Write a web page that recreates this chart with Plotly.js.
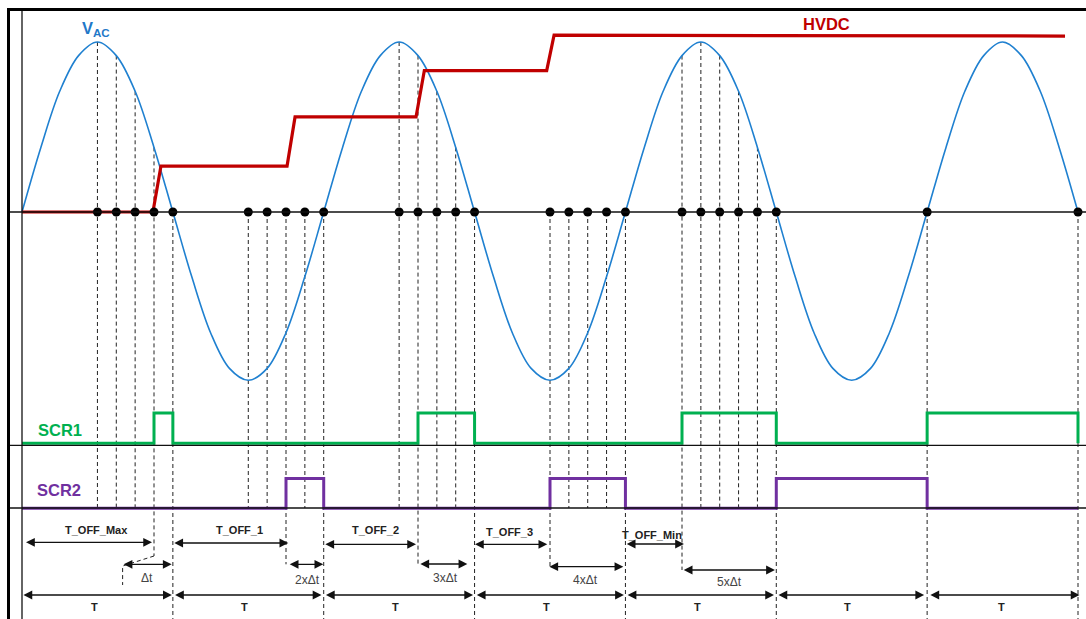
<!DOCTYPE html>
<html><head><meta charset="utf-8">
<script src="https://cdn.plot.ly/plotly-3.0.1.min.js"></script>
<style>html,body{margin:0;padding:0;background:#fff}#chart{width:1086px;height:619px}</style>
</head><body><div id="chart"></div>
<script>
// Time unit: one half-cycle of V_AC (= T). Voltage unit: V_AC peak.
const vacTime = [0,0.125,0.25,0.375,0.5,0.625,0.75,0.875,
  1,1.125,1.25,1.375,1.5,1.625,1.75,1.875,
  2,2.125,2.25,2.375,2.5,2.625,2.75,2.875,
  3,3.125,3.25,3.375,3.5,3.625,3.75,3.875,
  4,4.125,4.25,4.375,4.5,4.625,4.75,4.875,
  5,5.125,5.25,5.375,5.5,5.625,5.75,5.875,
  6,6.125,6.25,6.375,6.5,6.625,6.75,6.875,7];
const vacValue = [0,0.38,0.71,0.92,1.0,0.92,0.71,0.38,
  0,-0.38,-0.71,-0.92,-0.99,-0.92,-0.71,-0.38,
  0,0.38,0.71,0.92,1.0,0.92,0.71,0.38,
  0,-0.38,-0.71,-0.92,-0.99,-0.92,-0.71,-0.38,
  0,0.38,0.71,0.92,1.0,0.92,0.71,0.38,
  0,-0.38,-0.71,-0.92,-0.99,-0.92,-0.71,-0.38,
  0,0.38,0.71,0.92,1.0,0.92,0.71,0.38,0];

const hvdcTime  = [0,0.868,0.921,1.757,1.81,2.612,2.667,3.478,3.527,6.914];
const hvdcValue = [0,0,0.27,0.27,0.559,0.559,0.832,0.832,1.04,1.035];

const dotTime = [0.5,0.625,0.75,0.875,1, 1.5,1.625,1.75,1.875,2,
  2.5,2.625,2.75,2.875,3, 3.5,3.625,3.75,3.875,4,
  4.375,4.5,4.625,4.75,4.875,5, 6, 7];

const scr1Time  = [0,0.875,1,2.625,3,4.375,5,6,7];
const scr1State = [0,1,0,1,0,1,0,1,0];
const scr2Time  = [0,1.75,2,3.5,4,5,6,7];
const scr2State = [0,1,0,1,0,1,0,0];

const tOffLabels = ['T_OFF_Max','T_OFF_1','T_OFF_2','T_OFF_3','T_OFF_Min'];
const tOffStart  = [0.02,1.003,2.004,2.996,4.002];
const tOffEnd    = [0.862,1.765,2.612,3.482,4.388];

const dtLabels = ['\u0394t','2x\u0394t','3x\u0394t','4x\u0394t','5x\u0394t'];
const dtAnchor = [0.875,1.75,2.625,3.5,4.375];
const dtStart  = [0.667,1.768,2.634,3.489,4.38];
const dtEnd    = [0.992,1.997,2.952,3.986,4.991];

const periodLabels = ['T','T','T','T','T','T','T'];
const periodStart  = [0.003,1.008,2.008,3.008,4.008,5.008,6.015];
const periodEnd    = [0.993,1.985,2.99,3.99,4.985,5.98,7.01];

// ---- layout constants (pixel geometry) ----
const PXT = 150.857, X0 = 22, Y0 = 212, PXV = 170;
const Y = py => (Y0 - py) / PXV;
const T = px => (px - X0) / PXT;

const SCR1_LOW = Y(443.3), SCR1_HIGH = Y(413), SCR1_BASE = Y(445.3);
const SCR2_LOW = Y(508.3), SCR2_HIGH = Y(478.5), SCR2_BASE = Y(508);
const BOTTOM = Y(625);
const yTOff  = [Y(542.3),Y(543),Y(544.3),Y(544.3),Y(544)];
const yTOffL = [Y(530),Y(530),Y(530),Y(531.7),Y(535)];
const xTOffL = [T(96.7),T(239),T(375),T(509.5),T(652)];
const yDt    = [Y(564.3),Y(564.3),Y(564),Y(566.7),Y(570)];
const yDtL   = [Y(577.5),Y(580),Y(577.5),Y(579.5),Y(582)];
const xDtL   = [T(146.5),T(307),T(445),T(585),T(729)];
const yPer = Y(595), yPerL = Y(607.3);

// dashed drop lines
const dx = [], dy = [];
dotTime.forEach(t => {
  const idx = vacTime.indexOf(t);
  const top = Math.max(0, vacValue[idx]);
  let bot;
  const k = dtAnchor.indexOf(t);
  if (Number.isInteger(t)) bot = BOTTOM;
  else if (k === 0) bot = Y(556);
  else if (k > 0) bot = yDt[k];
  else bot = SCR2_BASE;
  dx.push(t, t, null); dy.push(top, bot, null);
});
// offset connector for the first delta-t arrow
dx.push(dtAnchor[0], dtStart[0], dtStart[0], null);
dy.push(Y(556), Y(566), Y(585), null);

const traces = [
  {x: dx, y: dy, mode: 'lines', line: {color: '#222', width: 1, dash: '4px,3px'}, hoverinfo: 'skip'},
  {x: vacTime, y: vacValue, mode: 'lines', line: {color: '#1f80d0', width: 1.6, shape: 'spline', smoothing: 1}},
  {x: hvdcTime, y: hvdcValue, mode: 'lines', line: {color: '#c00000', width: 3.2}},
  {x: dotTime, y: dotTime.map(() => 0), mode: 'markers', marker: {color: '#000', size: 9}},
  {x: scr1Time, y: scr1State.map(s => s ? SCR1_HIGH : SCR1_LOW), mode: 'lines',
   line: {color: '#00b050', width: 3, shape: 'hv'}},
  {x: scr2Time, y: scr2State.map(s => s ? SCR2_HIGH : SCR2_LOW), mode: 'lines',
   line: {color: '#7030a0', width: 3, shape: 'hv'}}
];

const ann = [];
function arrow(x0, x1, y) {
  ann.push({x: x1, y: y, ax: x0, ay: y, xref: 'x', yref: 'y', axref: 'x', ayref: 'y',
    text: ' ', font: {size: 2}, borderpad: 0, showarrow: true, arrowside: 'end+start',
    arrowhead: 2, startarrowhead: 2, arrowsize: 1.35, startarrowsize: 1.35,
    arrowwidth: 1.3, arrowcolor: '#111', standoff: 0, startstandoff: 0});
}
function label(x, y, text, size, color, bold) {
  ann.push({x: x, y: y, xref: 'x', yref: 'y', text: bold ? '<b>' + text + '</b>' : text,
    showarrow: false, xanchor: 'center', yanchor: 'middle',
    font: {family: 'Liberation Sans, Arial, sans-serif', size: size, color: color}});
}
tOffLabels.forEach((s, i) => { arrow(tOffStart[i], tOffEnd[i], yTOff[i]); label(xTOffL[i], yTOffL[i], s, 11, '#222', true); });
dtLabels.forEach((s, i) => { arrow(dtStart[i], dtEnd[i], yDt[i]); label(xDtL[i], yDtL[i], s, 12, '#444', false); });
periodLabels.forEach((s, i) => { arrow(periodStart[i], periodEnd[i], yPer); label((periodStart[i] + periodEnd[i]) / 2 - 0.02, yPerL, s, 11, '#222', true); });

label(T(96), Y(29), 'V<sub>AC</sub>', 16.5, '#1f78c8', true);
label(T(826), Y(23.5), 'HVDC', 16.5, '#c00000', true);
label(T(60), Y(430), 'SCR1', 16.5, '#00b050', true);
label(T(59), Y(489.5), 'SCR2', 16.5, '#7030a0', true);

const xL = T(8.5);
const shapes = [
  {type: 'line', xref: 'paper', yref: 'y', x0: 8.5 / 1086, x1: 1, y0: 0, y1: 0, line: {color: '#111', width: 1.4}},
  {type: 'line', xref: 'paper', yref: 'y', x0: 8.5 / 1086, x1: 1, y0: SCR1_BASE, y1: SCR1_BASE, line: {color: '#111', width: 1.3}},
  {type: 'line', xref: 'paper', yref: 'y', x0: 8.5 / 1086, x1: 1, y0: SCR2_BASE, y1: SCR2_BASE, line: {color: '#111', width: 1.3}},
  {type: 'line', xref: 'x', yref: 'y', x0: 0, x1: 0, y0: Y(9.5), y1: BOTTOM, line: {color: '#111', width: 1.3}},
  {type: 'line', xref: 'x', yref: 'y', x0: xL, x1: xL, y0: Y(8), y1: BOTTOM, line: {color: '#000', width: 3}},
  {type: 'line', xref: 'x', yref: 'paper', x0: xL, x1: 7.2, y0: 1 - 9.5 / 619, y1: 1 - 9.5 / 619, line: {color: '#000', width: 3}}
];

const layout = {
  width: 1086, height: 619,
  margin: {l: 0, r: 0, t: 0, b: 0},
  paper_bgcolor: '#fff', plot_bgcolor: '#fff',
  showlegend: false,
  xaxis: {range: [T(0), T(1086)], visible: false, fixedrange: true},
  yaxis: {range: [Y(619), Y(0)], visible: false, fixedrange: true},
  shapes: shapes,
  annotations: ann
};
Plotly.newPlot('chart', traces, layout, {displayModeBar: false, staticPlot: true});
</script>
</body></html>
